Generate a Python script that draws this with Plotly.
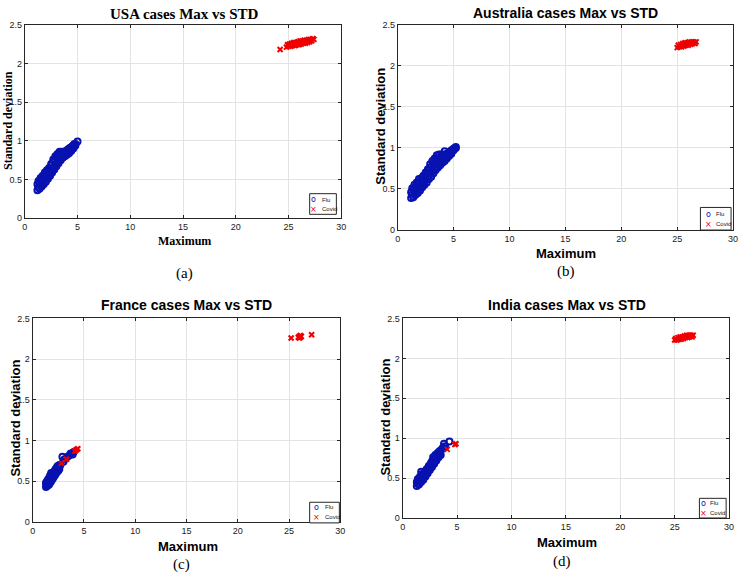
import plotly.graph_objects as go

# ---------------- data ----------------
usa_flu_x = [1.2, 1.4, 1.6, 1.8, 2.0, 2.2, 2.4, 2.6, 2.8, 3.0, 3.2, 3.4, 3.6, 3.8, 4.0, 4.2, 4.4, 4.6, 4.8,
             1.3, 1.5, 1.7, 1.9, 2.1, 2.3, 2.5, 2.7, 2.9, 3.1, 3.3, 3.5, 3.7, 3.9, 4.1, 4.3, 4.5, 4.7,
             1.2, 1.4, 1.6, 1.8, 2.0, 2.2, 2.4, 2.6, 2.8, 3.0, 3.2, 3.4, 3.6, 3.8, 4.0, 4.2, 4.4, 4.6, 4.8,
             1.3, 1.5, 1.7, 1.9, 2.1, 2.3, 2.5, 2.7, 2.9, 3.1, 3.3, 3.5, 3.7, 3.9, 4.1, 4.3, 4.5, 4.7, 5.0]
usa_flu_y = [0.36, 0.38, 0.41, 0.44, 0.47, 0.51, 0.55, 0.59, 0.63, 0.67, 0.71, 0.75, 0.78, 0.80, 0.82, 0.84, 0.87, 0.90, 0.94,
             0.40, 0.43, 0.46, 0.50, 0.53, 0.57, 0.61, 0.65, 0.69, 0.73, 0.77, 0.79, 0.81, 0.83, 0.85, 0.87, 0.90, 0.93,
             0.44, 0.47, 0.50, 0.54, 0.57, 0.60, 0.64, 0.69, 0.74, 0.78, 0.81, 0.83, 0.84, 0.85, 0.87, 0.89, 0.91, 0.94, 0.96,
             0.48, 0.52, 0.55, 0.59, 0.62, 0.65, 0.70, 0.76, 0.80, 0.83, 0.86, 0.86, 0.86, 0.87, 0.89, 0.91, 0.93, 0.96, 0.99]
usa_covid_x = [24.2,
               24.8, 25.0, 25.2, 25.4, 25.6, 25.8, 26.0, 26.2, 26.4, 26.6, 26.8, 27.0, 27.2,
               24.9, 25.1, 25.3, 25.5, 25.7, 25.9, 26.1, 26.3, 26.5, 26.7, 26.9, 27.1, 27.3,
               25.0, 25.4, 25.8, 26.2, 26.6, 27.0, 27.4]
usa_covid_y = [2.18,
               2.21, 2.22, 2.22, 2.23, 2.23, 2.24, 2.24, 2.25, 2.26, 2.26, 2.27, 2.28, 2.29,
               2.24, 2.25, 2.26, 2.27, 2.27, 2.28, 2.29, 2.29, 2.30, 2.30, 2.31, 2.31, 2.32,
               2.235, 2.25, 2.26, 2.27, 2.28, 2.295, 2.31]

aus_flu_x = [1.2, 1.4, 1.6, 1.8, 2.0, 2.2, 2.4, 2.6, 2.8, 3.0, 3.2, 3.4, 3.6, 3.8, 4.0, 4.2, 4.4, 4.6, 4.8, 5.0, 5.2,
             1.3, 1.5, 1.7, 1.9, 2.1, 2.3, 2.5, 2.7, 2.9, 3.1, 3.3, 3.5, 3.7, 3.9, 4.1, 4.3, 4.5, 4.7, 4.9, 5.1,
             1.2, 1.4, 1.6, 1.8, 2.0, 2.2, 2.4, 2.6, 2.8, 3.0, 3.2, 3.4, 3.6, 3.8, 4.0, 4.2, 4.4, 4.6, 4.8, 5.0, 5.2,
             1.3, 1.5, 1.7, 1.9, 2.1, 2.3, 2.5, 2.7, 2.9, 3.1, 3.3, 3.5, 3.7, 3.9, 4.2]
aus_flu_y = [0.39, 0.40, 0.43, 0.45, 0.48, 0.52, 0.55, 0.58, 0.62, 0.65, 0.69, 0.73, 0.76, 0.79, 0.82, 0.84, 0.87, 0.90, 0.93, 0.97, 1.00,
             0.43, 0.45, 0.48, 0.51, 0.54, 0.58, 0.61, 0.65, 0.69, 0.72, 0.76, 0.80, 0.82, 0.85, 0.87, 0.89, 0.91, 0.94, 0.97, 1.00,
             0.46, 0.49, 0.52, 0.56, 0.58, 0.61, 0.64, 0.68, 0.73, 0.77, 0.81, 0.85, 0.87, 0.88, 0.90, 0.92, 0.93, 0.95, 0.97, 0.99, 1.01,
             0.51, 0.55, 0.58, 0.62, 0.63, 0.66, 0.70, 0.74, 0.80, 0.84, 0.87, 0.91, 0.92, 0.92, 0.96]
aus_covid_x = [25.0, 25.2, 25.4, 25.6, 25.8, 26.0, 26.2, 26.4, 26.6,
               25.1, 25.3, 25.5, 25.7, 25.9, 26.1, 26.3, 26.5, 26.7]
aus_covid_y = [2.22, 2.23, 2.23, 2.24, 2.25, 2.25, 2.26, 2.27, 2.27,
               2.25, 2.26, 2.27, 2.28, 2.28, 2.29, 2.29, 2.29, 2.29]

fra_flu_x = [1.3, 1.4, 1.5, 1.6, 1.7, 1.8, 1.9, 2.0, 2.1, 2.2, 2.3, 2.4, 2.5, 2.6,
             1.3, 1.4, 1.5, 1.6, 1.7, 1.8, 1.9, 2.0, 2.1, 2.2, 2.3, 2.4, 2.5, 2.6,
             1.3, 1.4, 1.5, 1.6, 1.7, 1.8, 1.9, 2.0, 2.1, 2.2, 2.3, 2.4, 2.5, 2.6, 2.7,
             2.9, 3.0, 3.1, 3.4, 3.6, 3.7, 3.9, 4.0]
fra_flu_y = [0.43, 0.44, 0.45, 0.46, 0.48, 0.50, 0.52, 0.54, 0.56, 0.58, 0.60, 0.62, 0.63, 0.65,
             0.46, 0.47, 0.49, 0.50, 0.52, 0.54, 0.55, 0.57, 0.59, 0.61, 0.63, 0.65, 0.66, 0.68,
             0.48, 0.50, 0.52, 0.54, 0.57, 0.60, 0.58, 0.60, 0.62, 0.64, 0.66, 0.68, 0.69, 0.70, 0.70,
             0.80, 0.74, 0.77, 0.80, 0.82, 0.84, 0.83, 0.86]
fra_covid_x = [2.8, 3.3, 4.1, 4.2, 4.3, 4.4, 25.2, 25.9, 26.0, 26.1, 26.2, 26.0, 26.1, 27.2]
fra_covid_y = [0.72, 0.77, 0.87, 0.88, 0.89, 0.90, 2.26, 2.27, 2.28, 2.27, 2.28, 2.26, 2.29, 2.30]

ind_flu_x = [1.3, 1.5, 1.7, 1.9, 2.1, 2.3, 2.5, 2.7, 2.9, 3.1, 3.3, 3.5,
             1.4, 1.6, 1.8, 2.0, 2.2, 2.4, 2.6, 2.8, 3.0, 3.2, 3.4,
             1.3, 1.5, 1.7, 1.9, 2.1, 2.3, 2.5, 2.7, 2.9, 3.1, 3.3,
             1.4, 1.6, 1.8, 2.0, 2.2, 2.4, 2.6, 2.8, 3.0, 3.2, 3.4, 3.6,
             1.7, 3.7, 3.8, 3.9, 4.3]
ind_flu_y = [0.40, 0.42, 0.45, 0.48, 0.52, 0.56, 0.60, 0.64, 0.68, 0.72, 0.76, 0.79,
             0.43, 0.46, 0.49, 0.52, 0.56, 0.60, 0.64, 0.68, 0.72, 0.76, 0.80,
             0.45, 0.48, 0.51, 0.54, 0.58, 0.62, 0.66, 0.71, 0.75, 0.79, 0.82,
             0.49, 0.52, 0.55, 0.57, 0.61, 0.65, 0.69, 0.76, 0.79, 0.81, 0.84, 0.86,
             0.58, 0.88, 0.93, 0.90, 0.96]
ind_covid_x = [4.1, 4.8, 4.9,
               25.0, 25.2, 25.4, 25.6, 25.8, 26.0, 26.2, 26.4, 26.6,
               25.1, 25.3, 25.5, 25.7, 25.9, 26.1, 26.3, 26.5, 26.7]
ind_covid_y = [0.86, 0.92, 0.93,
               2.23, 2.23, 2.24, 2.24, 2.25, 2.26, 2.26, 2.27, 2.27,
               2.25, 2.26, 2.27, 2.27, 2.28, 2.29, 2.29, 2.29, 2.29]

titles = ["USA cases Max vs STD", "Australia cases Max vs STD", "France cases Max vs STD", "India cases Max vs STD"]
captions = ["(a)", "(b)", "(c)", "(d)"]
legend_names = ["Flu", "Covid"]
x_ticks = [0, 5, 10, 15, 20, 25, 30]
y_ticks = [0, 0.5, 1, 1.5, 2, 2.5]

# ---------------- layout geometry ----------------
W, H = 743, 579
def px(x):
    return x / W
def py(y):
    return 1 - y / H

# plot boxes in pixels: (left, right, top, bottom)
boxes = [(22, 342, 20, 217), (399, 738, 20, 229), (30, 341, 319, 526), (404, 734, 319, 522)]
SERIF = "Liberation Serif, Times New Roman, serif"
SANS = "Liberation Sans Narrow, Arial Narrow, Liberation Sans, Arial, sans-serif"

FLU_C = "#0812b0"
COV_C = "#ee0000"

datasets = [(usa_flu_x, usa_flu_y, usa_covid_x, usa_covid_y),
            (aus_flu_x, aus_flu_y, aus_covid_x, aus_covid_y),
            (fra_flu_x, fra_flu_y, fra_covid_x, fra_covid_y),
            (ind_flu_x, ind_flu_y, ind_covid_x, ind_covid_y)]

fig = go.Figure()
layout = dict(width=W, height=H, margin=dict(l=0, r=0, t=0, b=0),
              paper_bgcolor="white", plot_bgcolor="white", showlegend=False)
annotations = []
shapes = []

# legend boxes: (left, top, right, bottom), symbol x, text x, row y's
legend_boxes = [(310, 192, 337, 213), (705, 206, 736, 229), (310, 506, 340, 527), (704, 502, 731, 522)]
legend_sym_x = [314, 713, 317, 708]
legend_txt_x = [320, 719, 323, 713]
legend_rows = [(198, 208), (213, 223), (511, 521), (507, 517)]
title_pos = [(183, 9), (569, 8), (186, 305), (570, 305)]
xlab_pos = [(183, 240), (569, 253), (187, 551), (570, 547)]
ylab_pos = [(5, 117), (382, 123), (13, 420), (387, 419)]
cap_pos = [(183, 273), (569, 271), (180, 569), (565, 566)]
fonts = [SERIF, SANS, SANS, SANS]

for i, (fx, fy, cx, cy) in enumerate(datasets):
    n = "" if i == 0 else str(i + 1)
    fig.add_trace(go.Scatter(x=fx, y=fy, mode="markers", name=legend_names[0],
                             xaxis="x" + n, yaxis="y" + n,
                             marker=dict(symbol="circle-open", size=6, color=FLU_C,
                                         line=dict(width=2, color=FLU_C))))
    fig.add_trace(go.Scatter(x=cx, y=cy, mode="markers", name=legend_names[1],
                             xaxis="x" + n, yaxis="y" + n,
                             marker=dict(symbol="x-thin", size=5, color=COV_C,
                                         line=dict(width=2, color=COV_C))))
    l, r, t, b = boxes[i]
    axcommon = dict(showline=True, mirror="ticks", linecolor="#262626", linewidth=1,
                    showgrid=True, gridcolor="#e3e3e3", gridwidth=1, zeroline=False,
                    ticks="inside", ticklen=3, tickcolor="#262626",
                    tickfont=dict(family=SANS, size=9, color="#1a1a1a"))
    layout["xaxis" + n] = dict(axcommon, domain=[px(l), px(r)], range=[0, 30],
                               tickvals=x_ticks, anchor="y" + n)
    layout["yaxis" + n] = dict(axcommon, domain=[py(b), py(t)], range=[0, 2.5],
                               tickvals=y_ticks, anchor="x" + n)

    # custom compact legend (MATLAB style)
    bl, bt, br, bb = legend_boxes[i]
    shapes.append(dict(type="rect", xref="paper", yref="paper",
                       x0=px(bl), x1=px(br), y0=py(bb), y1=py(bt),
                       line=dict(color="#262626", width=1), fillcolor="white", layer="above"))
    r1, r2 = legend_rows[i]
    annotations.append(dict(text="o", x=px(legend_sym_x[i]), y=py(r1), xref="paper", yref="paper",
                            showarrow=False, xanchor="center", yanchor="middle",
                            font=dict(family="DejaVu Sans", size=8, color=FLU_C)))
    annotations.append(dict(text="×", x=px(legend_sym_x[i]), y=py(r2), xref="paper", yref="paper",
                            showarrow=False, xanchor="center", yanchor="middle",
                            font=dict(family="DejaVu Sans", size=8, color=COV_C)))
    annotations.append(dict(text=legend_names[0], x=px(legend_txt_x[i]), y=py(r1), xref="paper", yref="paper",
                            showarrow=False, xanchor="left", yanchor="middle",
                            font=dict(family=SANS, size=6, color="#111")))
    annotations.append(dict(text=legend_names[1], x=px(legend_txt_x[i]), y=py(r2), xref="paper", yref="paper",
                            showarrow=False, xanchor="left", yanchor="middle",
                            font=dict(family=SANS, size=6, color="#111")))

    f = fonts[i]
    tx, ty = title_pos[i]
    annotations.append(dict(text="<b>%s</b>" % titles[i], x=px(tx), y=py(ty), xref="paper", yref="paper",
                            showarrow=False, xanchor="center", yanchor="middle",
                            font=dict(family=f, size=15 if i == 0 else 14, color="#000")))
    xx, xy = xlab_pos[i]
    annotations.append(dict(text="<b>Maximum</b>", x=px(xx), y=py(xy), xref="paper", yref="paper",
                            showarrow=False, xanchor="center", yanchor="middle",
                            font=dict(family=f, size=12 if i == 0 else 13, color="#000")))
    yx, yy = ylab_pos[i]
    annotations.append(dict(text="<b>Standard deviation</b>", x=px(yx), y=py(yy), xref="paper", yref="paper",
                            showarrow=False, xanchor="center", yanchor="middle", textangle=-90,
                            font=dict(family=f, size=12 if i == 0 else 13, color="#000")))
    cxp, cyp = cap_pos[i]
    annotations.append(dict(text=captions[i], x=px(cxp), y=py(cyp), xref="paper", yref="paper",
                            showarrow=False, xanchor="center", yanchor="middle",
                            font=dict(family=SERIF, size=15, color="#000")))

layout["annotations"] = annotations
layout["shapes"] = shapes
fig.update_layout(**layout)
fig.write_html("out.html", config={"displayModeBar": False},
               post_script="document.body.style.margin='0';document.body.style.padding='0';"
                           "document.body.style.overflow='hidden';")
